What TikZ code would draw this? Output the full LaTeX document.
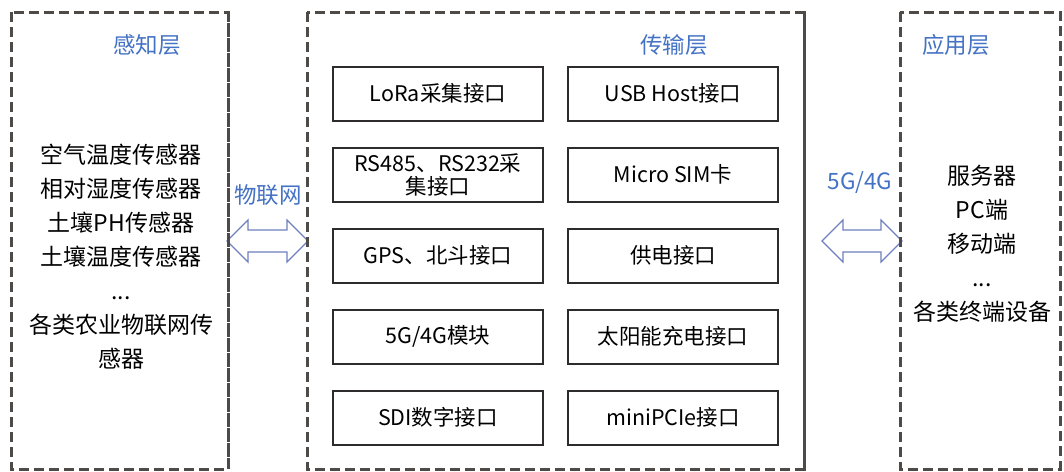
\documentclass[tikz,border=0pt]{standalone}
\usepackage{fontspec}
\setmainfont{Noto Sans CJK SC}
\definecolor{dashgray}{RGB}{78,74,72}
\definecolor{boxgray}{RGB}{45,43,43}
\definecolor{titleblue}{RGB}{68,114,196}
\definecolor{arrowblue}{RGB}{112,128,192}
\begin{document}
\begin{tikzpicture}[x=1pt,y=-1pt,
  layer/.style={draw=dashgray,line width=3pt,dash pattern=on 10pt off 5pt},
  ifbox/.style={draw=boxgray,line width=2pt,minimum width=210pt,minimum height=54pt,inner sep=2pt,align=center,font=\fontsize{21.5}{27}\selectfont},
  title/.style={text=titleblue,font=\fontsize{22.5}{26}\selectfont,inner sep=0pt},
  body/.style={align=center,font=\fontsize{23}{34}\selectfont,inner sep=0pt},
  dblarrow/.style={draw=arrowblue,line width=1.2pt,fill=white,line join=miter}
]
\useasboundingbox (0,0) rectangle (1064,471);
\fill[white] (0,0) rectangle (1064,471);

% layers
\draw[layer] (11,12) rectangle (228,469);
\draw[layer] (307,12) rectangle (804,469);
\draw[layer] (900,12) rectangle (1060,469);

% titles
\node[title] (t1) at (147,45) {感知层};
\node[title] (t2) at (674,45) {传输层};
\node[title] (t3) at (956,45) {应用层};

% perception text
\node[body] (sense) at (121,257) {空气温度传感器\\相对湿度传感器\\土壤PH传感器\\土壤温度传感器\\...\\各类农业物联网传\\感器};

% application text
\node[body] (app) at (982,244) {服务器\\PC端\\移动端\\...\\各类终端设备};

% interface boxes
\node[ifbox] (b11) at (438,93.5) {LoRa采集接口};
\node[ifbox] (b12) at (673,93.5) {USB Host接口};
\node[ifbox] (b21) at (438,174.5) {RS485、RS232采\\[-4pt]集接口};
\node[ifbox] (b22) at (673,174.5) {Micro SIM卡};
\node[ifbox] (b31) at (438,255.5) {GPS、北斗接口};
\node[ifbox] (b32) at (673,255.5) {供电接口};
\node[ifbox] (b41) at (438,336.5) {5G/4G模块};
\node[ifbox] (b42) at (673,336.5) {太阳能充电接口};
\node[ifbox] (b51) at (438,417.5) {SDI数字接口};
\node[ifbox] (b52) at (673,417.5) {miniPCIe接口};

% arrows
\draw[dblarrow] (227,241) -- (248,220) -- (248,230) -- (287,230) -- (287,220) -- (308,241)
  -- (287,262) -- (287,252) -- (248,252) -- (248,262) -- cycle;
\draw[dblarrow] (822,241) -- (843,220) -- (843,230) -- (881,230) -- (881,220) -- (902,241)
  -- (881,262) -- (881,252) -- (843,252) -- (843,262) -- cycle;
\draw[layer] (228,12) -- (228,469);
\draw[layer] (307,12) -- (307,469);
\draw[layer] (804,12) -- (804,469);
\draw[layer] (900,12) -- (900,469);

\node[title] (l1) at (268,195) {物联网};
\node[title] (l2) at (860,183) {5G/4G};
\end{tikzpicture}
\end{document}
